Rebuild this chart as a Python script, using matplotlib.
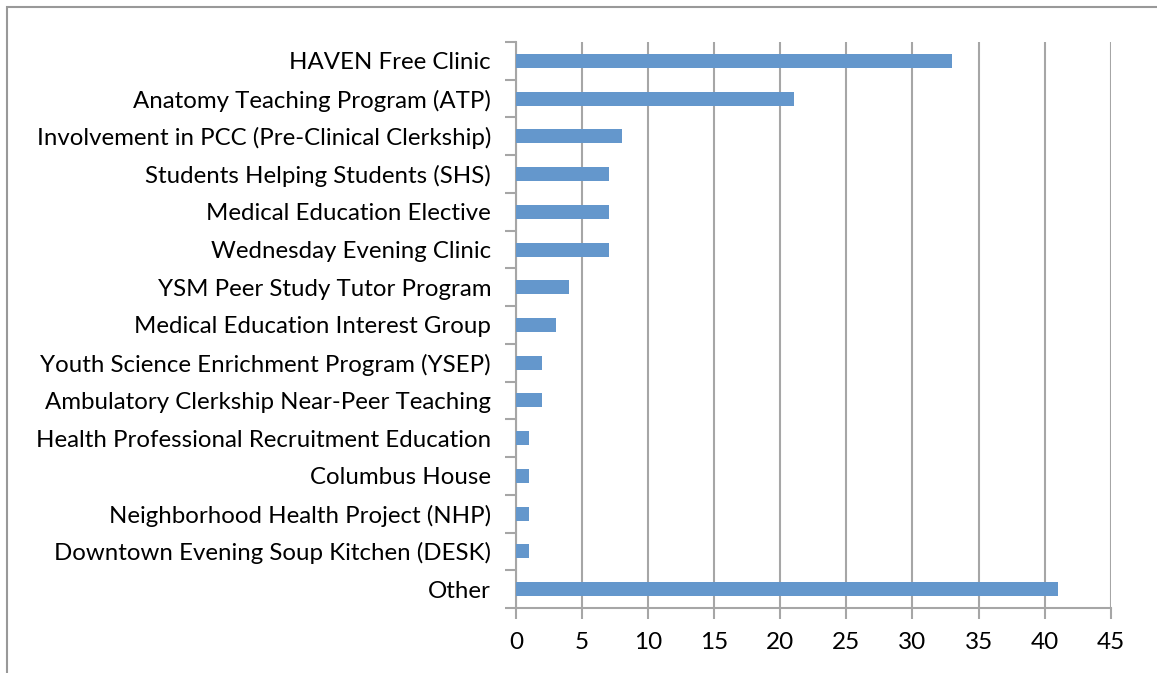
import numpy as np
import matplotlib.pyplot as plt
from matplotlib.patches import Rectangle

# Activities (top to bottom) and number of students
categories = [
    'HAVEN Free Clinic',
    'Anatomy Teaching Program (ATP)',
    'Involvement in PCC (Pre-Clinical Clerkship)',
    'Students Helping Students (SHS)',
    'Medical Education Elective',
    'Wednesday Evening Clinic',
    'YSM Peer Study Tutor Program',
    'Medical Education Interest Group',
    'Youth Science Enrichment Program (YSEP)',
    'Ambulatory Clerkship Near-Peer Teaching',
    'Health Professional Recruitment Education',
    'Columbus House',
    'Neighborhood Health Project (NHP)',
    'Downtown Evening Soup Kitchen (DESK)',
    'Other',
]
counts = [33, 21, 8, 7, 7, 7, 4, 3, 2, 2, 1, 1, 1, 1, 41]
x_ticks = [0, 5, 10, 15, 20, 25, 30, 35, 40, 45]

plt.rcParams['font.family'] = ['Lato', 'DejaVu Sans']

fig = plt.figure(figsize=(11.57, 6.73), dpi=100)
ax = fig.add_axes([0.446, 0.0966, 0.514, 0.841])

grid_col = '#a6a6a6'
bar_col = '#6497cc'

n = len(categories)
y = np.arange(n)
ax.barh(y, counts, height=0.37, color=bar_col, zorder=3)

ax.set_xlim(0, 45)
ax.set_ylim(n - 0.5, -0.5)
ax.set_xticks(x_ticks)
ax.set_xticklabels([str(t) for t in x_ticks], fontsize=17.5)
ax.set_yticks(y)
ax.set_yticklabels(categories, fontsize=17.3)
ax.set_yticks(np.arange(n + 1) - 0.5, minor=True)

ax.tick_params(axis='y', which='major', length=0, pad=18)
ax.tick_params(axis='y', which='minor', length=8, width=1.5, color=grid_col)
ax.tick_params(axis='x', which='major', length=8, width=1.5, color=grid_col, pad=9)

ax.grid(axis='x', color=grid_col, linewidth=1.5, zorder=0)
for side in ['top', 'right']:
    ax.spines[side].set_visible(False)
for side in ['left', 'bottom']:
    ax.spines[side].set_color(grid_col)
    ax.spines[side].set_linewidth(1.5)

# outer chart border
fig.patches.append(Rectangle((7 / 1157, -0.1), 1.2, 1 - 7 / 673 + 0.1,
                             transform=fig.transFigure, fill=False,
                             edgecolor='#999999', linewidth=1.5))

fig.savefig('out.png', dpi=100)
